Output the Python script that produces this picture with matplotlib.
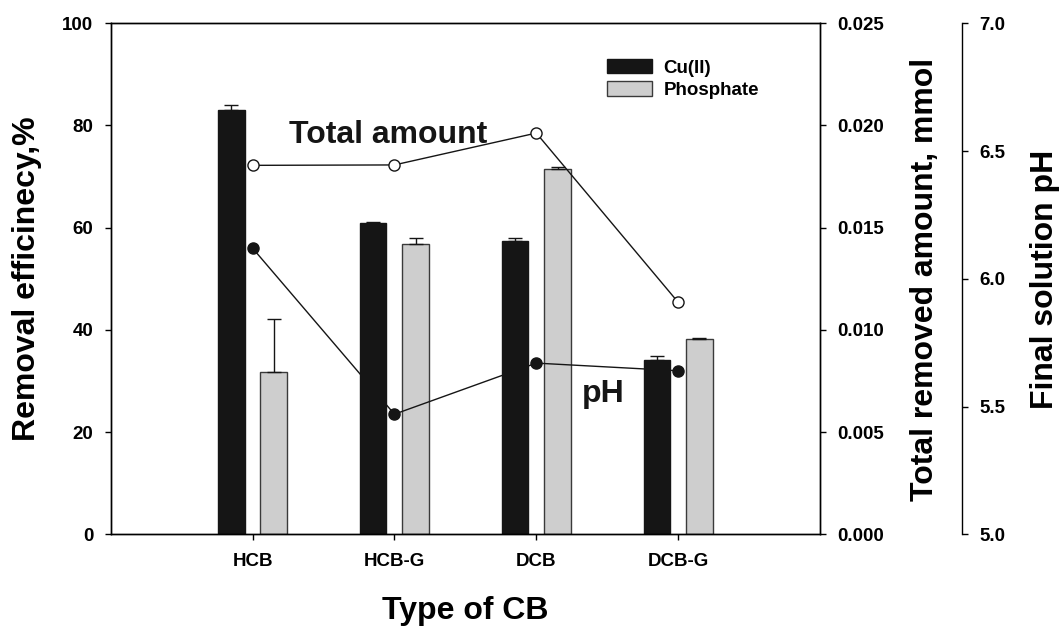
import numpy as np
import matplotlib
matplotlib.use("Agg")
import matplotlib.pyplot as plt

plt.rcParams['font.family'] = ['Liberation Sans', 'DejaVu Sans']
plt.rcParams['font.weight'] = 'bold'

# data
cb_types = ['HCB', 'HCB-G', 'DCB', 'DCB-G']
cu_eff = [83.0, 60.9, 57.4, 34.1]
cu_err = [1.1, 0.2, 0.5, 0.8]
po4_eff = [31.7, 56.9, 71.4, 38.2]
po4_err = [10.5, 1.0, 0.5, 0.2]
total_mmol = [0.01805, 0.01807, 0.01963, 0.01135]
final_ph = [6.12, 5.47, 5.67, 5.64]

x = np.arange(len(cb_types))
w = 0.188
off = 0.15

fig = plt.figure(figsize=(10.61, 6.26), dpi=100)
ax = fig.add_axes([0.1043, 0.1465, 0.6686, 0.8163])

# bars with one-sided error bars
ax.bar(x - off, cu_eff, w, color='#151515', edgecolor='#151515', linewidth=1,
       label='Cu(II)', zorder=2)
ax.bar(x + off, po4_eff, w, color='#cecece', edgecolor='#3a3a3a', linewidth=1,
       label='Phosphate', zorder=2)
ax.errorbar(x - off, cu_eff, yerr=[np.zeros(4), cu_err], fmt='none',
            ecolor='#151515', elinewidth=1, capsize=5, capthick=1, zorder=3)
ax.errorbar(x + off, po4_eff, yerr=[np.zeros(4), po4_err], fmt='none',
            ecolor='#151515', elinewidth=1, capsize=5, capthick=1, zorder=3)

ax.set_xlim(-1, 4)
ax.set_ylim(0, 100)
ax.set_xticks(x)
ax.set_xticklabels(cb_types)
ax.set_yticks([0, 20, 40, 60, 80, 100])
ax.tick_params(axis='both', labelsize=13.5, length=4.5, width=1, pad=8)
ax.tick_params(axis='x', pad=9)

leg = ax.legend(loc='upper left', bbox_to_anchor=(0.699, 0.93), frameon=False,
                fontsize=13.5, handlelength=2.4, handleheight=0.8,
                handletextpad=0.64, labelspacing=0.25, borderpad=0,
                borderaxespad=0)

# total removed amount (second axis)
ax2 = ax.twinx()
ax2.plot(x, total_mmol, '-o', color='#151515', lw=1, ms=8,
         mfc='white', mec='#151515', mew=1, zorder=4)
ax2.set_ylim(0, 0.025)
ax2.set_yticks([0, 0.005, 0.010, 0.015, 0.020, 0.025])
ax2.set_yticklabels(['0.000', '0.005', '0.010', '0.015', '0.020', '0.025'])
ax2.tick_params(axis='y', labelsize=13.5, length=4.5, width=1, pad=8)

# final pH (third axis)
ax3 = ax.twinx()
ax3.spines['right'].set_position(('axes', 1.2))
for s in ['top', 'bottom', 'left']:
    ax3.spines[s].set_visible(False)
ax3.plot(x, final_ph, '-o', color='#151515', lw=1, ms=8,
         mfc='#151515', mec='#151515', zorder=4)
ax3.set_ylim(5.0, 7.0)
ax3.set_yticks([5.0, 5.5, 6.0, 6.5, 7.0])
ax3.set_yticklabels(['5.0', '5.5', '6.0', '6.5', '7.0'])
ax3.tick_params(axis='y', labelsize=13.5, length=4.5, width=1, pad=8)

for a in (ax, ax2, ax3):
    for s in a.spines.values():
        s.set_linewidth(1)

ax.text(0.391, 0.765, 'Total amount', transform=ax.transAxes, fontsize=23,
        ha='center', va='baseline', color='#151515')
ax.text(0.6945, 0.2595, 'pH', transform=ax.transAxes, fontsize=23,
        ha='center', va='baseline', color='#151515')

# axis titles
fig.text(27 / 1061, 1 - 279 / 626, 'Removal efficinecy,%', rotation=90,
         ha='center', va='center', fontsize=23)
fig.text(465 / 1061, 1 - 618.5 / 626, 'Type of CB', ha='center',
         va='baseline', fontsize=23)
fig.text(925 / 1061, 1 - 279 / 626, 'Total removed amount, mmol',
         rotation=90, ha='center', va='center', fontsize=23)
fig.text(1045 / 1061, 1 - 279 / 626, 'Final solution pH', rotation=90,
         ha='center', va='center', fontsize=23)

fig.savefig('out.png', dpi=100)
